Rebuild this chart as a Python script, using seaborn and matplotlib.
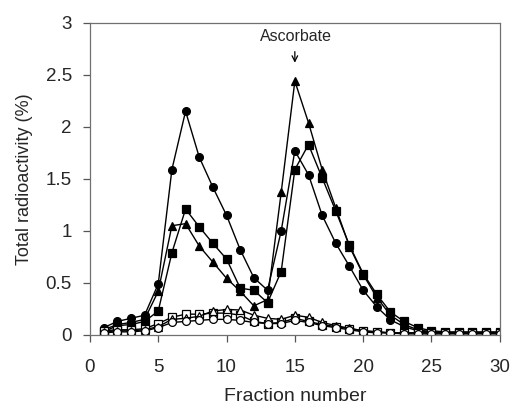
import matplotlib
matplotlib.use('Agg')
import matplotlib.pyplot as plt
import seaborn as sns
import pandas as pd

fractions = list(range(1, 31))

# filled symbols
circle_filled = [0.07, 0.13, 0.16, 0.19, 0.49, 1.59, 2.15, 1.71, 1.42, 1.15, 0.82, 0.55, 0.43, 1.00, 1.77,
                 1.54, 1.15, 0.88, 0.66, 0.43, 0.27, 0.145, 0.08, 0.04, 0.03, 0.02, 0.02, 0.02, 0.02, 0.02]
square_filled = [0.03, 0.09, 0.10, 0.13, 0.23, 0.79, 1.21, 1.04, 0.88, 0.73, 0.45, 0.43, 0.31, 0.61, 1.59,
                 1.83, 1.51, 1.19, 0.86, 0.59, 0.39, 0.22, 0.13, 0.07, 0.04, 0.03, 0.03, 0.03, 0.03, 0.03]
triangle_filled = [0.05, 0.10, 0.12, 0.15, 0.42, 1.05, 1.07, 0.855, 0.70, 0.545, 0.42, 0.28, 0.34, 1.37, 2.44,
                   2.04, 1.59, 1.22, 0.85, 0.58, 0.36, 0.19, 0.10, 0.05, 0.03, 0.02, 0.02, 0.02, 0.02, 0.02]
# open symbols
square_open = [0.04, 0.05, 0.05, 0.06, 0.11, 0.17, 0.20, 0.20, 0.21, 0.21, 0.19, 0.13, 0.11, 0.12, 0.16,
               0.13, 0.10, 0.08, 0.06, 0.04, 0.03, 0.02, 0.02, 0.02, 0.02, 0.02, 0.02, 0.02, 0.02, 0.02]
triangle_open = [0.03, 0.04, 0.04, 0.05, 0.08, 0.15, 0.16, 0.18, 0.23, 0.245, 0.24, 0.19, 0.16, 0.15, 0.19,
                 0.17, 0.12, 0.09, 0.065, 0.04, 0.03, 0.02, 0.02, 0.02, 0.02, 0.02, 0.02, 0.02, 0.02, 0.02]
circle_open = [0.02, 0.03, 0.03, 0.04, 0.07, 0.12, 0.13, 0.14, 0.15, 0.15, 0.14, 0.12, 0.11, 0.11, 0.14,
               0.12, 0.09, 0.07, 0.05, 0.03, 0.02, 0.02, 0.01, 0.01, 0.01, 0.01, 0.01, 0.01, 0.01, 0.01]

series = [
    (circle_filled, 'o', 'black'),
    (square_filled, 's', 'black'),
    (triangle_filled, '^', 'black'),
    (square_open, 's', 'white'),
    (triangle_open, '^', 'white'),
    (circle_open, 'o', 'white'),
]

sns.set_style('ticks')
plt.rcParams['font.family'] = ['Liberation Sans', 'DejaVu Sans']

fig = plt.figure(figsize=(5.11, 4.08), dpi=100)
ax = fig.add_axes([0.176, 0.179, 0.802, 0.765])

for vals, mk, fc in series:
    df = pd.DataFrame({'fraction': fractions, 'value': vals})
    sns.lineplot(data=df, x='fraction', y='value', ax=ax, color='black', linewidth=1.0,
                 marker=mk, markersize=5.6 if mk != '^' else 6.2, markerfacecolor=fc,
                 markeredgecolor='black', markeredgewidth=0.9)

ax.set_xlim(0, 30)
ax.set_ylim(0, 3)
ax.set_xticks(range(0, 31, 5))
ax.set_yticks([0, 0.5, 1, 1.5, 2, 2.5, 3])
ax.set_yticklabels(['0', '0.5', '1', '1.5', '2', '2.5', '3'])
ax.set_xlabel('Fraction number', fontsize=14, labelpad=9)
ax.set_ylabel('Total radioactivity (%)', fontsize=13, labelpad=9)
ax.tick_params(labelsize=13.5, direction='out', length=5, width=0.9, color='#555555')
ax.tick_params(axis='x', pad=12)
ax.tick_params(axis='y', pad=8)
for sp in ax.spines.values():
    sp.set_visible(True)
    sp.set_color('#707070')
    sp.set_linewidth(0.9)

ax.annotate('', xy=(15, 2.59), xytext=(15, 2.75),
            arrowprops=dict(arrowstyle='->', color='black', lw=0.9))
ax.text(15.05, 2.865, 'Ascorbate', ha='center', va='center', fontsize=11.5)

fig.savefig('out.png', dpi=100)
